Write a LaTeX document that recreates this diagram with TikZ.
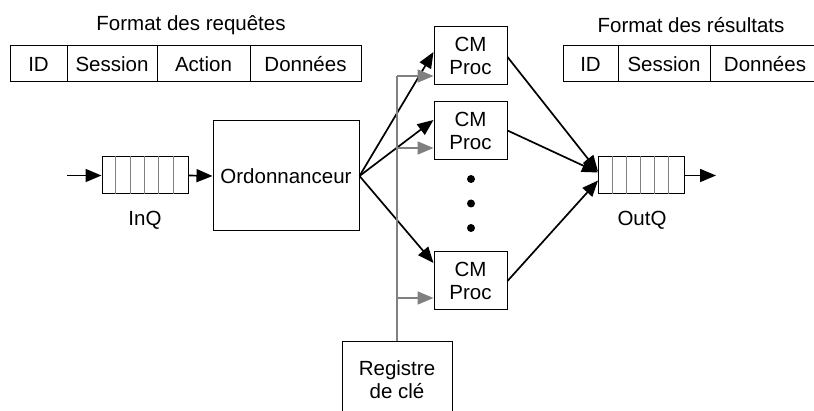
\documentclass[tikz,border=0pt]{standalone}
\usepackage{fontspec}
\setmainfont{Liberation Sans}
\usetikzlibrary{arrows.meta,calc}
\definecolor{linegray}{RGB}{128,128,128}
\begin{document}
\begin{tikzpicture}[x=1pt,y=-1pt,
  font=\fontsize{20.5}{23}\selectfont,
  box/.style={draw, line width=1pt, inner sep=0pt, align=center},
  cell/.style={box, minimum height=36pt},
  qcell/.style={draw, line width=1pt, inner sep=0pt, minimum width=86pt, minimum height=37pt},
  lbl/.style={inner sep=0pt, align=center},
  arr/.style={-{Triangle[length=16pt,width=13pt]}, line width=1.7pt},
  garr/.style={-{Triangle[length=16pt,width=13pt]}, line width=1.7pt, draw=linegray, color=linegray},
  gline/.style={line width=1.7pt, draw=linegray},
  dot/.style={fill=black, circle, inner sep=0pt, minimum size=8pt}
]
\useasboundingbox (0,0) rectangle (814,411);

% request format
\node[lbl] (reqt) at (191,25) {Format des requêtes};
\node[cell, minimum width=57pt] (r1) at (38.5,64) {ID};
\node[cell, minimum width=90pt] (r2) at (112,64) {Session};
\node[cell, minimum width=93pt] (r3) at (203.5,64) {Action};
\node[cell, minimum width=111pt] (r4) at (305.5,64) {Données};

% result format
\node[lbl] (rest) at (691,25) {Format des résultats};
\node[cell, minimum width=55pt] (s1) at (590.5,64) {ID};
\node[cell, minimum width=92pt] (s2) at (664,64) {Session};
\node[cell, minimum width=110pt] (s3) at (765,64) {Données};

% InQ
\node[qcell] (inq) at (145,175.5) {};
\foreach \i in {1,...,5}
  \draw[line width=0.8pt, draw=linegray] ($(inq.north west)+(\i*14.333,0)$) -- ($(inq.south west)+(\i*14.333,0)$);
\node[lbl] (inql) at (145,220) {InQ};
\coordinate (inqin) at (67,175.5);

% OutQ
\node[qcell] (outq) at (641.5,175.5) {};
\foreach \i in {1,...,5}
  \draw[line width=0.8pt, draw=linegray] ($(outq.north west)+(\i*14.167,0)$) -- ($(outq.south west)+(\i*14.167,0)$);
\node[lbl] (outql) at (642,220) {OutQ};
\coordinate (outqout) at (716,175.5);

% scheduler
\node[box, minimum width=146pt, minimum height=110pt] (ord) at (286,176) {Ordonnanceur};

% CM Proc boxes
\node[box, minimum width=73pt, minimum height=58pt] (cm1) at (470.5,56) {CM\\Proc};
\node[box, minimum width=73pt, minimum height=58pt] (cm2) at (470.5,130.5) {CM\\Proc};
\node[box, minimum width=73pt, minimum height=58pt] (cm3) at (470.5,281) {CM\\Proc};

% dots
\node[dot] (d1) at (471,179) {};
\node[dot] (d2) at (471,203.5) {};
\node[dot] (d3) at (471,228) {};

% key register
\node[box, minimum width=110pt, minimum height=76pt] (reg) at (397,380) {Registre\\de clé};

% queue arrows
\draw[arr] (inqin) -- (inq.west);
\draw[arr] (inq.east) -- (ord.west);
\draw[arr] (outq.east) -- (outqout);

% scheduler to CM
\draw[arr] (ord.east) -- ($(cm1.west)+(0,-4)$);
\draw[arr] (ord.east) -- ($(cm2.west)+(0,-10.5)$);
\draw[arr] (ord.east) -- ($(cm3.west)+(0,-18)$);

% CM to OutQ
\draw[arr] ($(cm1.east)+(0,1)$) -- ($(outq.west)+(0,-4)$);
\draw[arr] (cm2.east) -- ($(outq.west)+(0,-3)$);
\draw[arr] (cm3.east) -- ($(outq.west)+(0,5)$);

% gray key lines
\coordinate (gtop) at (397,76);
\draw[gline] (reg.north) -- (gtop);
\draw[garr] (gtop) -- (cm1.west |- gtop);
\draw[garr] (397,148) -- (cm2.west |- 0,148);
\draw[garr] (397,298) -- (cm3.west |- 0,298);
\end{tikzpicture}
\end{document}
